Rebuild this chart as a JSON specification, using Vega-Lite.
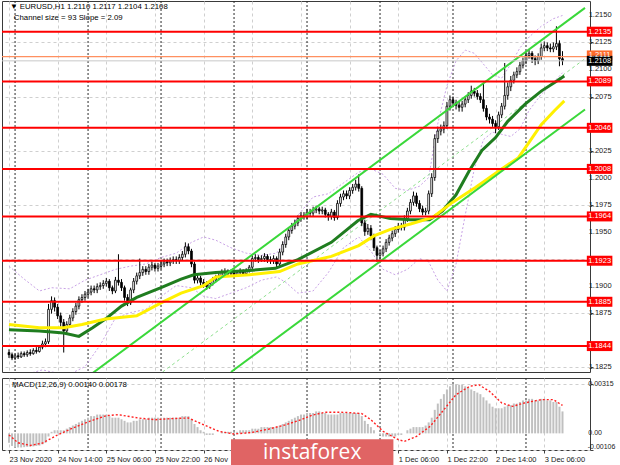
{
"$schema": "https://vega.github.io/schema/vega-lite/v6.json",
"background": "#ffffff",
"padding": {"left": 0, "top": 0, "right": 2, "bottom": 2},
"spacing": 4,
"config": {"view": {"stroke": "#3a3a3a", "strokeWidth": 1},
 "axis": {"labelFont": "Liberation Sans", "labelFontSize": 7.5, "labelColor": "#202020", "tickColor": "#404040", "gridColor": "#cfcfcf", "gridDash": [3,3], "domain": false, "title": null, "labelOverlap": false}},
"datasets": {
"bars": [
{"i":0,"o":1.1838,"h":1.1841,"l":1.1833,"c":1.1836,"m":-0.0006},
{"i":1,"o":1.1836,"h":1.1838,"l":1.1831,"c":1.1833,"m":-0.0008},
{"i":2,"o":1.1833,"h":1.1837,"l":1.1831,"c":1.1835,"m":-0.0009},
{"i":3,"o":1.1835,"h":1.1838,"l":1.1832,"c":1.1834,"m":-0.0009},
{"i":4,"o":1.1834,"h":1.1839,"l":1.1833,"c":1.1837,"m":-0.0009},
{"i":5,"o":1.1837,"h":1.1839,"l":1.1834,"c":1.1836,"m":-0.00088},
{"i":6,"o":1.1836,"h":1.184,"l":1.1834,"c":1.1838,"m":-0.00086},
{"i":7,"o":1.1838,"h":1.1841,"l":1.1835,"c":1.1837,"m":-0.00085},
{"i":8,"o":1.1837,"h":1.1842,"l":1.1836,"c":1.184,"m":-0.00083},
{"i":9,"o":1.184,"h":1.1843,"l":1.1837,"c":1.1839,"m":-0.0008},
{"i":10,"o":1.1839,"h":1.1845,"l":1.1838,"c":1.1843,"m":-0.00078},
{"i":11,"o":1.1843,"h":1.1849,"l":1.1841,"c":1.1846,"m":-0.0007},
{"i":12,"o":1.1846,"h":1.1851,"l":1.1843,"c":1.1848,"m":-0.0006},
{"i":13,"o":1.1848,"h":1.1883,"l":1.1846,"c":1.1878,"m":-0.0002},
{"i":14,"o":1.1878,"h":1.189,"l":1.1874,"c":1.1886,"m":0.0001},
{"i":15,"o":1.1886,"h":1.1889,"l":1.1876,"c":1.188,"m":0.0002},
{"i":16,"o":1.188,"h":1.1883,"l":1.1869,"c":1.1872,"m":0.0002},
{"i":17,"o":1.1872,"h":1.1875,"l":1.1862,"c":1.1866,"m":0.0002},
{"i":18,"o":1.1866,"h":1.1869,"l":1.1838,"c":1.1858,"m":0.0002},
{"i":19,"o":1.1858,"h":1.1867,"l":1.1855,"c":1.1864,"m":0.0003},
{"i":20,"o":1.1864,"h":1.1873,"l":1.1861,"c":1.187,"m":0.0004},
{"i":21,"o":1.187,"h":1.1879,"l":1.1867,"c":1.1876,"m":0.0005},
{"i":22,"o":1.1876,"h":1.1884,"l":1.1873,"c":1.1881,"m":0.0006},
{"i":23,"o":1.1881,"h":1.189,"l":1.1878,"c":1.1887,"m":0.0007},
{"i":24,"o":1.1887,"h":1.1892,"l":1.1884,"c":1.1889,"m":0.0008},
{"i":25,"o":1.1889,"h":1.1895,"l":1.1886,"c":1.1892,"m":0.0009},
{"i":26,"o":1.1892,"h":1.1897,"l":1.1889,"c":1.1894,"m":0.001},
{"i":27,"o":1.1894,"h":1.19,"l":1.1891,"c":1.1897,"m":0.0011},
{"i":28,"o":1.1897,"h":1.19,"l":1.1893,"c":1.1896,"m":0.0011},
{"i":29,"o":1.1896,"h":1.1902,"l":1.1893,"c":1.1899,"m":0.0012},
{"i":30,"o":1.1899,"h":1.1903,"l":1.1896,"c":1.19,"m":0.0012},
{"i":31,"o":1.19,"h":1.1905,"l":1.1897,"c":1.1902,"m":0.0012},
{"i":32,"o":1.1902,"h":1.1907,"l":1.1899,"c":1.1904,"m":0.0012},
{"i":33,"o":1.1904,"h":1.1906,"l":1.1895,"c":1.1898,"m":0.0011},
{"i":34,"o":1.1898,"h":1.19,"l":1.1892,"c":1.1895,"m":0.001},
{"i":35,"o":1.1895,"h":1.1908,"l":1.1893,"c":1.1905,"m":0.001},
{"i":36,"o":1.1905,"h":1.1929,"l":1.19,"c":1.1903,"m":0.001},
{"i":37,"o":1.1903,"h":1.1906,"l":1.1895,"c":1.1898,"m":0.0009},
{"i":38,"o":1.1898,"h":1.19,"l":1.1886,"c":1.1889,"m":0.0008},
{"i":39,"o":1.1889,"h":1.1892,"l":1.1881,"c":1.1884,"m":0.0007},
{"i":40,"o":1.1884,"h":1.1898,"l":1.1882,"c":1.1896,"m":0.0007},
{"i":41,"o":1.1896,"h":1.1907,"l":1.1893,"c":1.1904,"m":0.0008},
{"i":42,"o":1.1904,"h":1.1912,"l":1.1901,"c":1.1909,"m":0.0008},
{"i":43,"o":1.1909,"h":1.1925,"l":1.1906,"c":1.1912,"m":0.0009},
{"i":44,"o":1.1912,"h":1.1918,"l":1.1909,"c":1.1915,"m":0.0009},
{"i":45,"o":1.1915,"h":1.1918,"l":1.191,"c":1.1913,"m":0.0009},
{"i":46,"o":1.1913,"h":1.192,"l":1.191,"c":1.1917,"m":0.001},
{"i":47,"o":1.1917,"h":1.1922,"l":1.1914,"c":1.1919,"m":0.001},
{"i":48,"o":1.1919,"h":1.1921,"l":1.1913,"c":1.1916,"m":0.001},
{"i":49,"o":1.1916,"h":1.1921,"l":1.1913,"c":1.1918,"m":0.001},
{"i":50,"o":1.1918,"h":1.1923,"l":1.1915,"c":1.192,"m":0.001},
{"i":51,"o":1.192,"h":1.1925,"l":1.1917,"c":1.1922,"m":0.001},
{"i":52,"o":1.1922,"h":1.1925,"l":1.1918,"c":1.1921,"m":0.001},
{"i":53,"o":1.1921,"h":1.1926,"l":1.1918,"c":1.1923,"m":0.001},
{"i":54,"o":1.1923,"h":1.1927,"l":1.192,"c":1.1924,"m":0.001},
{"i":55,"o":1.1924,"h":1.1927,"l":1.192,"c":1.1923,"m":0.001},
{"i":56,"o":1.1923,"h":1.1929,"l":1.192,"c":1.1926,"m":0.001},
{"i":57,"o":1.1926,"h":1.1932,"l":1.1923,"c":1.1929,"m":0.0011},
{"i":58,"o":1.1929,"h":1.194,"l":1.1926,"c":1.1936,"m":0.0011},
{"i":59,"o":1.1936,"h":1.1939,"l":1.1929,"c":1.1932,"m":0.0011},
{"i":60,"o":1.1932,"h":1.1934,"l":1.1917,"c":1.192,"m":0.0009},
{"i":61,"o":1.192,"h":1.1922,"l":1.1902,"c":1.1905,"m":0.0006},
{"i":62,"o":1.1905,"h":1.191,"l":1.1902,"c":1.1907,"m":0.0004},
{"i":63,"o":1.1907,"h":1.1909,"l":1.19,"c":1.1903,"m":0.0002},
{"i":64,"o":1.1903,"h":1.1906,"l":1.1898,"c":1.1901,"m":0.0001},
{"i":65,"o":1.1901,"h":1.1904,"l":1.1896,"c":1.1899,"m":-0.0001},
{"i":66,"o":1.1899,"h":1.1905,"l":1.1897,"c":1.1902,"m":-0.0001},
{"i":67,"o":1.1902,"h":1.1908,"l":1.19,"c":1.1905,"m":-0.0001},
{"i":68,"o":1.1905,"h":1.191,"l":1.1903,"c":1.1907,"m":0.0},
{"i":69,"o":1.1907,"h":1.1912,"l":1.1905,"c":1.1909,"m":0.0},
{"i":70,"o":1.1909,"h":1.1915,"l":1.1907,"c":1.1912,"m":0.0001},
{"i":71,"o":1.1912,"h":1.1916,"l":1.191,"c":1.1913,"m":0.0001},
{"i":72,"o":1.1913,"h":1.1915,"l":1.1908,"c":1.1911,"m":0.0001},
{"i":73,"o":1.1911,"h":1.1915,"l":1.1909,"c":1.1912,"m":0.0001},
{"i":74,"o":1.1912,"h":1.1914,"l":1.1908,"c":1.191,"m":0.0001},
{"i":75,"o":1.191,"h":1.1914,"l":1.1908,"c":1.1912,"m":0.0001},
{"i":76,"o":1.1912,"h":1.1916,"l":1.191,"c":1.1913,"m":0.0002},
{"i":77,"o":1.1913,"h":1.1915,"l":1.1909,"c":1.1911,"m":0.0002},
{"i":78,"o":1.1911,"h":1.1916,"l":1.1909,"c":1.1914,"m":0.0002},
{"i":79,"o":1.1914,"h":1.1919,"l":1.1912,"c":1.1917,"m":0.0002},
{"i":80,"o":1.1917,"h":1.1928,"l":1.1915,"c":1.1925,"m":0.0003},
{"i":81,"o":1.1925,"h":1.1929,"l":1.1922,"c":1.1926,"m":0.0003},
{"i":82,"o":1.1926,"h":1.1928,"l":1.1921,"c":1.1924,"m":0.0003},
{"i":83,"o":1.1924,"h":1.1928,"l":1.1922,"c":1.1925,"m":0.0004},
{"i":84,"o":1.1925,"h":1.193,"l":1.1922,"c":1.1927,"m":0.0004},
{"i":85,"o":1.1927,"h":1.1929,"l":1.1921,"c":1.1924,"m":0.0004},
{"i":86,"o":1.1924,"h":1.1927,"l":1.192,"c":1.1923,"m":0.0004},
{"i":87,"o":1.1923,"h":1.1928,"l":1.192,"c":1.1925,"m":0.0004},
{"i":88,"o":1.1925,"h":1.1927,"l":1.1917,"c":1.192,"m":0.0004},
{"i":89,"o":1.192,"h":1.1934,"l":1.1918,"c":1.1931,"m":0.0005},
{"i":90,"o":1.1931,"h":1.1941,"l":1.1928,"c":1.1938,"m":0.0006},
{"i":91,"o":1.1938,"h":1.1948,"l":1.1935,"c":1.1945,"m":0.0007},
{"i":92,"o":1.1945,"h":1.1954,"l":1.1942,"c":1.1951,"m":0.0008},
{"i":93,"o":1.1951,"h":1.1958,"l":1.1948,"c":1.1955,"m":0.0009},
{"i":94,"o":1.1955,"h":1.1961,"l":1.1952,"c":1.1958,"m":0.001},
{"i":95,"o":1.1958,"h":1.1965,"l":1.1955,"c":1.1962,"m":0.0011},
{"i":96,"o":1.1962,"h":1.1968,"l":1.1959,"c":1.1965,"m":0.0012},
{"i":97,"o":1.1965,"h":1.1968,"l":1.1961,"c":1.1964,"m":0.0012},
{"i":98,"o":1.1964,"h":1.1971,"l":1.1961,"c":1.1968,"m":0.0013},
{"i":99,"o":1.1968,"h":1.1971,"l":1.1964,"c":1.1967,"m":0.0013},
{"i":100,"o":1.1967,"h":1.1973,"l":1.1964,"c":1.197,"m":0.0013},
{"i":101,"o":1.197,"h":1.1974,"l":1.1967,"c":1.1971,"m":0.0014},
{"i":102,"o":1.1971,"h":1.1973,"l":1.1966,"c":1.1969,"m":0.0014},
{"i":103,"o":1.1969,"h":1.1973,"l":1.1966,"c":1.197,"m":0.0013},
{"i":104,"o":1.197,"h":1.1972,"l":1.1963,"c":1.1966,"m":0.0013},
{"i":105,"o":1.1966,"h":1.1968,"l":1.196,"c":1.1964,"m":0.0012},
{"i":106,"o":1.1964,"h":1.1971,"l":1.1961,"c":1.1968,"m":0.0012},
{"i":107,"o":1.1968,"h":1.197,"l":1.196,"c":1.1963,"m":0.0012},
{"i":108,"o":1.1963,"h":1.1979,"l":1.1961,"c":1.1976,"m":0.0012},
{"i":109,"o":1.1976,"h":1.1985,"l":1.1973,"c":1.1982,"m":0.0013},
{"i":110,"o":1.1982,"h":1.1988,"l":1.1979,"c":1.1985,"m":0.0013},
{"i":111,"o":1.1985,"h":1.1988,"l":1.198,"c":1.1983,"m":0.0013},
{"i":112,"o":1.1983,"h":1.1991,"l":1.198,"c":1.1988,"m":0.0013},
{"i":113,"o":1.1988,"h":1.1994,"l":1.1985,"c":1.1991,"m":0.0013},
{"i":114,"o":1.1991,"h":1.1998,"l":1.1988,"c":1.1994,"m":0.0013},
{"i":115,"o":1.1994,"h":1.2003,"l":1.1987,"c":1.199,"m":0.0013},
{"i":116,"o":1.199,"h":1.1992,"l":1.1955,"c":1.1958,"m":0.0011},
{"i":117,"o":1.1958,"h":1.1961,"l":1.1946,"c":1.195,"m":0.0008},
{"i":118,"o":1.195,"h":1.1957,"l":1.1947,"c":1.1953,"m":0.0006},
{"i":119,"o":1.1953,"h":1.1956,"l":1.1942,"c":1.1946,"m":0.0004},
{"i":120,"o":1.1946,"h":1.1948,"l":1.1932,"c":1.1935,"m":0.0002},
{"i":121,"o":1.1935,"h":1.1937,"l":1.1922,"c":1.1928,"m":0.0},
{"i":122,"o":1.1928,"h":1.1933,"l":1.1924,"c":1.193,"m":-0.0001},
{"i":123,"o":1.193,"h":1.1937,"l":1.1927,"c":1.1934,"m":-0.0002},
{"i":124,"o":1.1934,"h":1.1943,"l":1.1931,"c":1.194,"m":-0.0002},
{"i":125,"o":1.194,"h":1.1947,"l":1.1937,"c":1.1944,"m":-0.0002},
{"i":126,"o":1.1944,"h":1.1951,"l":1.1941,"c":1.1948,"m":-0.0002},
{"i":127,"o":1.1948,"h":1.1955,"l":1.1945,"c":1.1952,"m":-0.0002},
{"i":128,"o":1.1952,"h":1.1958,"l":1.1949,"c":1.1955,"m":-0.0001},
{"i":129,"o":1.1955,"h":1.1958,"l":1.1951,"c":1.1954,"m":-0.0001},
{"i":130,"o":1.1954,"h":1.1965,"l":1.1951,"c":1.1962,"m":0.0},
{"i":131,"o":1.1962,"h":1.1972,"l":1.1959,"c":1.1969,"m":0.0002},
{"i":132,"o":1.1969,"h":1.198,"l":1.1966,"c":1.1977,"m":0.0003},
{"i":133,"o":1.1977,"h":1.1987,"l":1.1974,"c":1.1983,"m":0.0004},
{"i":134,"o":1.1983,"h":1.1986,"l":1.1973,"c":1.1976,"m":0.0004},
{"i":135,"o":1.1976,"h":1.1979,"l":1.1968,"c":1.1971,"m":0.0004},
{"i":136,"o":1.1971,"h":1.1974,"l":1.1965,"c":1.1968,"m":0.0004},
{"i":137,"o":1.1968,"h":1.1972,"l":1.1965,"c":1.1969,"m":0.0005},
{"i":138,"o":1.1969,"h":1.1988,"l":1.1966,"c":1.1985,"m":0.0007},
{"i":139,"o":1.1985,"h":1.2004,"l":1.1982,"c":1.2,"m":0.001},
{"i":140,"o":1.2,"h":1.204,"l":1.1997,"c":1.2036,"m":0.0015},
{"i":141,"o":1.2036,"h":1.2047,"l":1.2032,"c":1.2043,"m":0.0019},
{"i":142,"o":1.2043,"h":1.2049,"l":1.2039,"c":1.2045,"m":0.0022},
{"i":143,"o":1.2045,"h":1.2052,"l":1.2041,"c":1.2048,"m":0.0025},
{"i":144,"o":1.2048,"h":1.207,"l":1.2045,"c":1.2066,"m":0.0028},
{"i":145,"o":1.2066,"h":1.2076,"l":1.2062,"c":1.2072,"m":0.003},
{"i":146,"o":1.2072,"h":1.2075,"l":1.2065,"c":1.2069,"m":0.00315},
{"i":147,"o":1.2069,"h":1.2072,"l":1.2063,"c":1.2067,"m":0.00313},
{"i":148,"o":1.2067,"h":1.207,"l":1.2061,"c":1.2065,"m":0.0031},
{"i":149,"o":1.2065,"h":1.2071,"l":1.2061,"c":1.2068,"m":0.0031},
{"i":150,"o":1.2068,"h":1.2075,"l":1.2065,"c":1.2072,"m":0.003},
{"i":151,"o":1.2072,"h":1.2079,"l":1.2069,"c":1.2076,"m":0.0029},
{"i":152,"o":1.2076,"h":1.2085,"l":1.2073,"c":1.208,"m":0.0028},
{"i":153,"o":1.208,"h":1.2083,"l":1.2075,"c":1.2078,"m":0.0027},
{"i":154,"o":1.2078,"h":1.2081,"l":1.2072,"c":1.2075,"m":0.0026},
{"i":155,"o":1.2075,"h":1.2078,"l":1.2069,"c":1.2072,"m":0.0025},
{"i":156,"o":1.2072,"h":1.2087,"l":1.2061,"c":1.2064,"m":0.0023},
{"i":157,"o":1.2064,"h":1.2067,"l":1.2053,"c":1.2056,"m":0.0021},
{"i":158,"o":1.2056,"h":1.2059,"l":1.205,"c":1.2054,"m":0.0019},
{"i":159,"o":1.2054,"h":1.2057,"l":1.2047,"c":1.205,"m":0.0017},
{"i":160,"o":1.205,"h":1.2053,"l":1.2041,"c":1.2047,"m":0.0016},
{"i":161,"o":1.2047,"h":1.2061,"l":1.2044,"c":1.2058,"m":0.0016},
{"i":162,"o":1.2058,"h":1.2069,"l":1.2055,"c":1.2066,"m":0.0016},
{"i":163,"o":1.2066,"h":1.2106,"l":1.2063,"c":1.2076,"m":0.0017},
{"i":164,"o":1.2076,"h":1.2088,"l":1.2072,"c":1.2084,"m":0.0018},
{"i":165,"o":1.2084,"h":1.2094,"l":1.208,"c":1.209,"m":0.0018},
{"i":166,"o":1.209,"h":1.2098,"l":1.2087,"c":1.2095,"m":0.0019},
{"i":167,"o":1.2095,"h":1.2102,"l":1.2092,"c":1.2098,"m":0.0019},
{"i":168,"o":1.2098,"h":1.2107,"l":1.2095,"c":1.2104,"m":0.002},
{"i":169,"o":1.2104,"h":1.2111,"l":1.2101,"c":1.2108,"m":0.0021},
{"i":170,"o":1.2108,"h":1.2116,"l":1.2105,"c":1.2113,"m":0.0021},
{"i":171,"o":1.2113,"h":1.2118,"l":1.211,"c":1.2115,"m":0.0022},
{"i":172,"o":1.2115,"h":1.2117,"l":1.2106,"c":1.211,"m":0.0022},
{"i":173,"o":1.211,"h":1.2113,"l":1.2104,"c":1.2108,"m":0.0021},
{"i":174,"o":1.2108,"h":1.2115,"l":1.2105,"c":1.2112,"m":0.0021},
{"i":175,"o":1.2112,"h":1.2124,"l":1.2109,"c":1.212,"m":0.0022},
{"i":176,"o":1.212,"h":1.2126,"l":1.2117,"c":1.2122,"m":0.0022},
{"i":177,"o":1.2122,"h":1.2125,"l":1.2117,"c":1.212,"m":0.0021},
{"i":178,"o":1.212,"h":1.2124,"l":1.2116,"c":1.2119,"m":0.0021},
{"i":179,"o":1.2119,"h":1.2125,"l":1.2116,"c":1.2121,"m":0.002},
{"i":180,"o":1.2121,"h":1.214,"l":1.2118,"c":1.2124,"m":0.002},
{"i":181,"o":1.2124,"h":1.2127,"l":1.2103,"c":1.211,"m":0.0017},
{"i":182,"o":1.211,"h":1.2117,"l":1.2104,"c":1.2108,"m":0.0014}
],
"ma": [
{"s":"g","i":0,"p":1.1859},{"s":"g","i":10,"p":1.1858},{"s":"g","i":18,"p":1.1856},{"s":"g","i":23,"p":1.1853},{"s":"g","i":27.5,"p":1.1861},{"s":"g","i":31.7,"p":1.1869},{"s":"g","i":37,"p":1.1881},{"s":"g","i":42,"p":1.1889},{"s":"g","i":50,"p":1.1898},{"s":"g","i":56.6,"p":1.1906},{"s":"g","i":60.8,"p":1.191},{"s":"g","i":68,"p":1.1912},{"s":"g","i":79,"p":1.1914},{"s":"g","i":87.6,"p":1.1916},{"s":"g","i":95,"p":1.1924},{"s":"g","i":106,"p":1.194},{"s":"g","i":114.7,"p":1.196},{"s":"g","i":119,"p":1.1966},{"s":"g","i":125.4,"p":1.1962},{"s":"g","i":132,"p":1.1961},{"s":"g","i":138.3,"p":1.1961},{"s":"g","i":142.5,"p":1.1969},{"s":"g","i":147,"p":1.1984},{"s":"g","i":151.3,"p":1.2006},{"s":"g","i":155.5,"p":1.2025},{"s":"g","i":160,"p":1.2037},{"s":"g","i":164,"p":1.2052},{"s":"g","i":169.7,"p":1.2068},{"s":"g","i":175,"p":1.208},{"s":"g","i":179.4,"p":1.2088},{"s":"g","i":182.6,"p":1.2094},
{"s":"y","i":0,"p":1.1864},{"s":"y","i":10,"p":1.1861},{"s":"y","i":18,"p":1.1861},{"s":"y","i":24,"p":1.1864},{"s":"y","i":31.7,"p":1.1869},{"s":"y","i":42,"p":1.1872},{"s":"y","i":50,"p":1.1884},{"s":"y","i":56.6,"p":1.1893},{"s":"y","i":64,"p":1.19},{"s":"y","i":68,"p":1.1908},{"s":"y","i":79,"p":1.191},{"s":"y","i":89,"p":1.1913},{"s":"y","i":95,"p":1.192},{"s":"y","i":106,"p":1.1927},{"s":"y","i":115,"p":1.1937},{"s":"y","i":120,"p":1.1946},{"s":"y","i":125.4,"p":1.1952},{"s":"y","i":132,"p":1.1957},{"s":"y","i":139.3,"p":1.1963},{"s":"y","i":145.8,"p":1.1977},{"s":"y","i":153.5,"p":1.1991},{"s":"y","i":162,"p":1.2008},{"s":"y","i":167.4,"p":1.2018},{"s":"y","i":170.6,"p":1.2031},{"s":"y","i":175,"p":1.2049},{"s":"y","i":179.4,"p":1.2062},{"s":"y","i":182.6,"p":1.2071}
],
"bb": [
{"s":"u","i":0,"p":1.1918},{"s":"u","i":5,"p":1.1906},{"s":"u","i":10,"p":1.1895},{"s":"u","i":14,"p":1.1898},{"s":"u","i":20,"p":1.1897},{"s":"u","i":25,"p":1.1905},{"s":"u","i":30,"p":1.191},{"s":"u","i":35,"p":1.1915},{"s":"u","i":40,"p":1.1918},{"s":"u","i":45,"p":1.192},{"s":"u","i":50,"p":1.1926},{"s":"u","i":55,"p":1.193},{"s":"u","i":60,"p":1.194},{"s":"u","i":64,"p":1.1945},{"s":"u","i":68,"p":1.1942},{"s":"u","i":73,"p":1.1935},{"s":"u","i":78,"p":1.193},{"s":"u","i":83,"p":1.1928},{"s":"u","i":88,"p":1.193},{"s":"u","i":91,"p":1.1942},{"s":"u","i":95,"p":1.1965},{"s":"u","i":100,"p":1.1982},{"s":"u","i":105,"p":1.1985},{"s":"u","i":110,"p":1.1995},{"s":"u","i":115,"p":1.2005},{"s":"u","i":119,"p":1.2008},{"s":"u","i":123,"p":1.2003},{"s":"u","i":127,"p":1.199},{"s":"u","i":131,"p":1.1988},{"s":"u","i":135,"p":1.1992},{"s":"u","i":138,"p":1.2},{"s":"u","i":141,"p":1.205},{"s":"u","i":144,"p":1.2085},{"s":"u","i":147,"p":1.2108},{"s":"u","i":150,"p":1.2118},{"s":"u","i":153,"p":1.2115},{"s":"u","i":156,"p":1.2105},{"s":"u","i":159,"p":1.2095},{"s":"u","i":162,"p":1.2092},{"s":"u","i":165,"p":1.2105},{"s":"u","i":168,"p":1.212},{"s":"u","i":171,"p":1.213},{"s":"u","i":175,"p":1.214},{"s":"u","i":179,"p":1.2147},{"s":"u","i":182,"p":1.215},
{"s":"l","i":0,"p":1.1815},{"s":"l","i":6,"p":1.1818},{"s":"l","i":11,"p":1.1822},{"s":"l","i":14,"p":1.182},{"s":"l","i":20,"p":1.1818},{"s":"l","i":25,"p":1.1825},{"s":"l","i":30,"p":1.1845},{"s":"l","i":35,"p":1.187},{"s":"l","i":40,"p":1.1875},{"s":"l","i":45,"p":1.1878},{"s":"l","i":50,"p":1.189},{"s":"l","i":55,"p":1.19},{"s":"l","i":60,"p":1.1898},{"s":"l","i":64,"p":1.189},{"s":"l","i":68,"p":1.1888},{"s":"l","i":73,"p":1.1893},{"s":"l","i":78,"p":1.1898},{"s":"l","i":83,"p":1.1905},{"s":"l","i":88,"p":1.1908},{"s":"l","i":91,"p":1.1903},{"s":"l","i":95,"p":1.1893},{"s":"l","i":100,"p":1.1895},{"s":"l","i":105,"p":1.1912},{"s":"l","i":110,"p":1.1935},{"s":"l","i":115,"p":1.1945},{"s":"l","i":119,"p":1.1932},{"s":"l","i":123,"p":1.1915},{"s":"l","i":127,"p":1.191},{"s":"l","i":131,"p":1.1915},{"s":"l","i":135,"p":1.1925},{"s":"l","i":138,"p":1.1922},{"s":"l","i":141,"p":1.1905},{"s":"l","i":144,"p":1.1895},{"s":"l","i":147,"p":1.192},{"s":"l","i":150,"p":1.1965},{"s":"l","i":153,"p":1.2008},{"s":"l","i":156,"p":1.2035},{"s":"l","i":159,"p":1.2042},{"s":"l","i":162,"p":1.204},{"s":"l","i":165,"p":1.2038},{"s":"l","i":168,"p":1.2045},{"s":"l","i":171,"p":1.2062},{"s":"l","i":175,"p":1.2077},{"s":"l","i":179,"p":1.2088},{"s":"l","i":182,"p":1.2097}
],
"sig": [
{"i":0,"v":-0.0001},{"i":3,"v":-0.0006},{"i":7,"v":-0.00077},{"i":11,"v":-0.00062},{"i":16,"v":-0.0001},{"i":21,"v":0.00034},{"i":26.5,"v":0.00077},{"i":32,"v":0.00113},{"i":36,"v":0.00119},{"i":42.5,"v":0.00098},{"i":48,"v":0.00087},{"i":53,"v":0.00094},{"i":59,"v":0.00098},{"i":64,"v":0.00055},{"i":69,"v":0.00013},{"i":74,"v":-0.00004},{"i":80,"v":0.00006},{"i":85.5,"v":0.00028},{"i":91,"v":0.00055},{"i":96,"v":0.00087},{"i":99.5,"v":0.00115},{"i":104,"v":0.00135},{"i":110.5,"v":0.00134},{"i":116,"v":0.00126},{"i":119,"v":0.00087},{"i":123,"v":0.00013},{"i":128,"v":-0.0004},{"i":130,"v":-0.00051},{"i":134,"v":-0.00019},{"i":138.5,"v":0.00045},{"i":143,"v":0.00151},{"i":147,"v":0.00247},{"i":151.5,"v":0.003},{"i":154.5,"v":0.0031},{"i":158,"v":0.00268},{"i":162,"v":0.00194},{"i":165.5,"v":0.00172},{"i":169.5,"v":0.00194},{"i":175,"v":0.00215},{"i":179,"v":0.00215},{"i":182,"v":0.00178}
],
"days": [{"d":2},{"d":26},{"d":50},{"d":74},{"d":98},{"d":122},{"d":146},{"d":170}],
"levels": [{"p":1.2135},{"p":1.2089},{"p":1.2046},{"p":1.2008},{"p":1.1964},{"p":1.1923},{"p":1.1885},{"p":1.1844}],
"chan": [
{"s":"u","i1":27.5,"p1":1.1819,"i2":189.4,"p2":1.2157},
{"s":"l","i1":73,"p1":1.182,"i2":189.4,"p2":1.2063},
{"s":"m","i1":50.5,"p1":1.182,"i2":189.4,"p2":1.211}
],
"tags": [
{"p":1.2135,"t":"1.2135","k":"r"},{"p":1.2089,"t":"1.2089","k":"r"},{"p":1.2046,"t":"1.2046","k":"r"},{"p":1.2008,"t":"1.2008","k":"r"},{"p":1.1964,"t":"1.1964","k":"r"},{"p":1.1923,"t":"1.1923","k":"r"},{"p":1.1885,"t":"1.1885","k":"r"},{"p":1.1844,"t":"1.1844","k":"r"},
{"p":1.2113,"t":"1.2111","k":"o"},{"p":1.2108,"t":"1.2108","k":"b"}
],
"plab": [
{"p":1.215,"t":"1.2150"},{"p":1.2125,"t":"1.2125"},{"p":1.21,"t":"1.2100"},{"p":1.2075,"t":"1.2075"},{"p":1.2025,"t":"1.2025"},{"p":1.2,"t":"1.2000"},{"p":1.1975,"t":"1.1975"},{"p":1.195,"t":"1.1950"},{"p":1.19,"t":"1.1900"},{"p":1.1875,"t":"1.1875"},{"p":1.1825,"t":"1.1825"}
],
"mlab": [
{"v":0.00315,"t":"0.00315"},{"v":0,"t":"0.00"}
],
"hdr": [
{"i":0.3,"p":1.2158,"t":"▼ EURUSD,H1  1.2110 1.2117 1.2104 1.2108"},
{"i":1.6,"p":1.21477,"t":"Channel size = 93 Slope = 2.09"}
]
},
"vconcat": [
{
"width": 588, "height": 371,
"layer": [
{"data": {"name": "days"}, "mark": {"type": "rule", "color": "#2a2a2a", "strokeDash": [2,2], "strokeWidth": 1},
 "encoding": {"x": {"field": "d", "type": "quantitative", "scale": {"domain": [-0.65, 189.4], "nice": false, "zero": false},
   "axis": {"orient": "bottom", "values": [0,16,32,48,64,80,96,112,128,144,160,176], "labels": false, "ticks": false, "domain": false, "grid": true, "title": null}}}},
{"data": {"name": "bb"}, "mark": {"type": "line", "color": "#c9a3e6", "strokeDash": [2,2], "strokeWidth": 1, "clip": true},
 "encoding": {"x": {"field": "i", "type": "quantitative"}, "y": {"field": "p", "type": "quantitative", "scale": {"domain": [1.182, 1.21634], "nice": false, "zero": false}}, "detail": {"field": "s"}}},
{"data": {"name": "chan"}, "transform": [{"filter": "datum.s == 'm'"}], "mark": {"type": "rule", "color": "#8fe08f", "strokeDash": [3,3], "strokeWidth": 1, "clip": true},
 "encoding": {"x": {"field": "i1", "type": "quantitative"}, "x2": {"field": "i2"}, "y": {"field": "p1", "type": "quantitative"}, "y2": {"field": "p2"}}},
{"data": {"name": "bars"}, "mark": {"type": "rule", "color": "#000000", "strokeWidth": 1},
 "encoding": {"x": {"field": "i", "type": "quantitative"}, "y": {"field": "l", "type": "quantitative"}, "y2": {"field": "h"}}},
{"data": {"name": "bars"}, "mark": {"type": "bar", "size": 1.8, "stroke": "#000000", "strokeWidth": 0.8},
 "encoding": {"x": {"field": "i", "type": "quantitative"}, "y": {"field": "o", "type": "quantitative"}, "y2": {"field": "c"},
   "fill": {"condition": {"test": "datum.c >= datum.o", "value": "#ffffff"}, "value": "#000000"}}},
{"data": {"name": "ma"}, "transform": [{"filter": "datum.s == 'g'"}], "mark": {"type": "line", "color": "#1f7d1f", "strokeWidth": 3},
 "encoding": {"x": {"field": "i", "type": "quantitative"}, "y": {"field": "p", "type": "quantitative"}}},
{"data": {"name": "ma"}, "transform": [{"filter": "datum.s == 'y'"}], "mark": {"type": "line", "color": "#fff000", "strokeWidth": 3},
 "encoding": {"x": {"field": "i", "type": "quantitative"}, "y": {"field": "p", "type": "quantitative"}}},
{"data": {"name": "chan"}, "transform": [{"filter": "datum.s != 'm'"}], "mark": {"type": "rule", "color": "#3ad83a", "strokeWidth": 2, "clip": true},
 "encoding": {"x": {"field": "i1", "type": "quantitative"}, "x2": {"field": "i2"}, "y": {"field": "p1", "type": "quantitative"}, "y2": {"field": "p2"}}},
{"data": {"name": "levels"}, "mark": {"type": "rule", "color": "#ff0000", "strokeWidth": 2},
 "encoding": {"y": {"field": "p", "type": "quantitative",
   "axis": {"orient": "right", "values": [1.1825,1.185,1.1875,1.19,1.1925,1.195,1.1975,1.2,1.2025,1.205,1.2075,1.21,1.2125,1.215],
     "labels": false, "grid": true, "tickSize": 3, "domain": false, "title": null}}}},
{"data": {"values": [{"p": 1.2112}]}, "mark": {"type": "rule", "color": "#ff9060", "strokeWidth": 1.2},
 "encoding": {"y": {"field": "p", "type": "quantitative"}}},
{"data": {"values": [{"p": 1.2108}]}, "mark": {"type": "rule", "color": "#c8c8c8", "strokeWidth": 1},
 "encoding": {"y": {"field": "p", "type": "quantitative"}}},
{"data": {"name": "plab"}, "mark": {"type": "text", "color": "#202020", "fontSize": 7.5, "align": "left", "baseline": "middle", "font": "Liberation Sans"},
 "encoding": {"x": {"datum": 190.6, "type": "quantitative"}, "y": {"field": "p", "type": "quantitative"}, "text": {"field": "t"}}},
{"data": {"name": "tags"}, "mark": {"type": "rule", "strokeWidth": 10, "strokeCap": "butt"},
 "encoding": {"x": {"datum": 190.0, "type": "quantitative"}, "x2": {"datum": 198.4}, "y": {"field": "p", "type": "quantitative"},
   "color": {"field": "k", "type": "nominal", "scale": {"domain": ["r","o","b"], "range": ["#ff0000","#ff6a2a","#000000"]}, "legend": null}}},
{"data": {"name": "tags"}, "mark": {"type": "text", "color": "#ffffff", "fontSize": 7.5, "align": "center", "baseline": "middle", "font": "Liberation Sans"},
 "encoding": {"x": {"datum": 194.2, "type": "quantitative"}, "y": {"field": "p", "type": "quantitative"}, "text": {"field": "t"}}},
{"data": {"name": "hdr"}, "mark": {"type": "text", "color": "#000000", "fontSize": 7.8, "align": "left", "baseline": "middle", "font": "Liberation Sans"},
 "encoding": {"x": {"field": "i", "type": "quantitative"}, "y": {"field": "p", "type": "quantitative"}, "text": {"field": "t"}}}
]
},
{
"width": 588, "height": 72,
"layer": [
{"data": {"name": "days"}, "mark": {"type": "rule", "color": "#2a2a2a", "strokeDash": [2,2], "strokeWidth": 1},
 "encoding": {"x": {"field": "d", "type": "quantitative", "scale": {"domain": [-0.65, 189.4], "nice": false, "zero": false},
   "axis": {"orient": "bottom", "values": [0,16,32,48,64,128,144,160,176],
     "labelExpr": "datum.value == 0 ? '23 Nov 2020' : datum.value == 16 ? '24 Nov 14:00' : datum.value == 32 ? '25 Nov 06:00' : datum.value == 48 ? '25 Nov 22:00' : datum.value == 64 ? '26 Nov' : datum.value == 128 ? '1 Dec 06:00' : datum.value == 144 ? '1 Dec 22:00' : datum.value == 160 ? '2 Dec 14:00' : '3 Dec 06:00'",
     "labelAlign": "left", "labelBaseline": "top", "labelPadding": 2, "tickSize": 3, "labelFlush": false, "labelOverlap": false, "labelBound": false, "grid": true, "domain": false, "title": null}}}},
{"data": {"name": "bars"}, "mark": {"type": "bar", "size": 2, "color": "#c0c0c0"},
 "encoding": {"x": {"field": "i", "type": "quantitative"}, "y": {"field": "m", "type": "quantitative", "scale": {"domain": [-0.00106, 0.00353], "nice": false},
   "axis": {"orient": "right", "values": [-0.00106, 0, 0.00315], "labels": false, "grid": true, "tickSize": 3, "domain": false, "title": null}}}},
{"data": {"name": "sig"}, "mark": {"type": "line", "color": "#ff2020", "strokeDash": [2,2], "strokeWidth": 1.4},
 "encoding": {"x": {"field": "i", "type": "quantitative"}, "y": {"field": "v", "type": "quantitative"}}},
{"data": {"name": "mlab"}, "mark": {"type": "text", "color": "#202020", "fontSize": 7, "align": "left", "baseline": "middle", "font": "Liberation Sans"},
 "encoding": {"x": {"datum": 190.5, "type": "quantitative"}, "y": {"field": "v", "type": "quantitative"}, "text": {"field": "t"}}},
{"data": {"values": [{"v": -0.00106, "t": "-0.00106"}]}, "mark": {"type": "text", "color": "#202020", "fontSize": 7, "align": "left", "baseline": "bottom", "font": "Liberation Sans"},
 "encoding": {"x": {"datum": 190.3, "type": "quantitative"}, "y": {"field": "v", "type": "quantitative"}, "text": {"field": "t"}}},
{"data": {"values": [{"i": 1, "v": 0.00309, "t": "MACD(12,26,9) 0.00140 0.00178"}]}, "mark": {"type": "text", "color": "#000000", "fontSize": 7.8, "align": "left", "baseline": "middle", "font": "Liberation Sans"},
 "encoding": {"x": {"field": "i", "type": "quantitative"}, "y": {"field": "v", "type": "quantitative"}, "text": {"field": "t"}}},
{"data": {"values": [{"a": 73.0, "b": 126.4, "y1": -0.00037, "y2": -0.00225}]}, "mark": {"type": "rect", "color": "#e06464"},
 "encoding": {"x": {"field": "a", "type": "quantitative"}, "x2": {"field": "b"}, "y": {"field": "y1", "type": "quantitative"}, "y2": {"field": "y2"}}},
{"data": {"values": [{"i": 99.7, "v": -0.00128, "t": "instaforex"}]}, "mark": {"type": "text", "color": "#ffffff", "fontSize": 21, "align": "center", "baseline": "middle", "font": "Open Sans"},
 "encoding": {"x": {"field": "i", "type": "quantitative"}, "y": {"field": "v", "type": "quantitative"}, "text": {"field": "t"}}}
]
}
]
}
